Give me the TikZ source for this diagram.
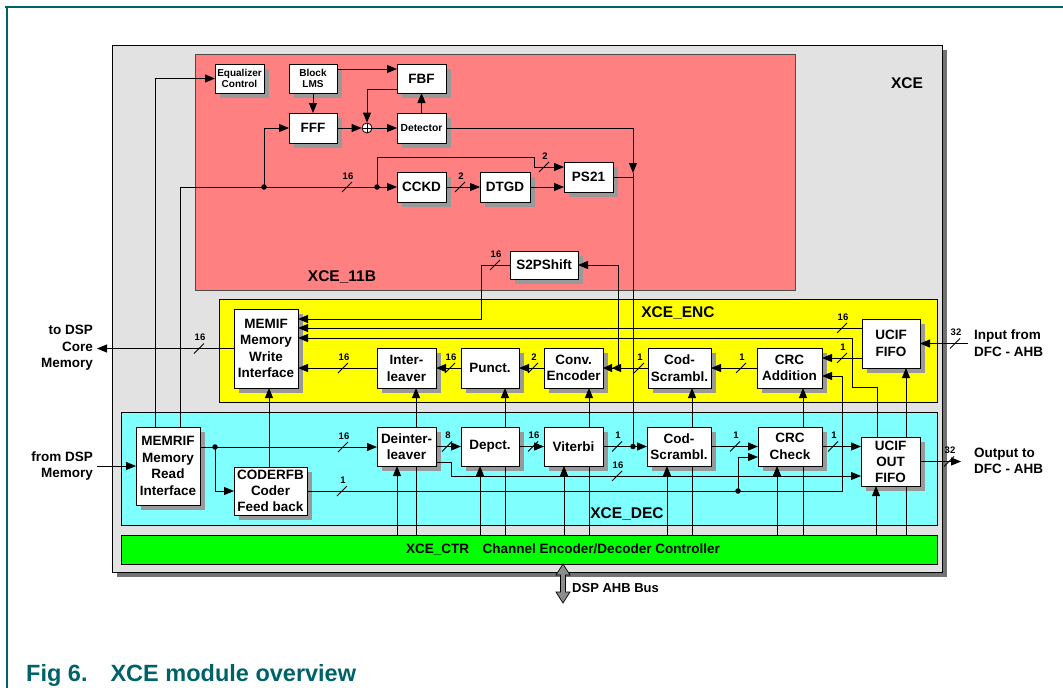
\documentclass[tikz,border=0pt]{standalone}
\usepackage{fontspec}
\setmainfont{Liberation Sans}
\usetikzlibrary{arrows.meta,shadows,calc}
\pgfdeclarelayer{areas}
\pgfdeclarelayer{shadowlayer}
\pgfdeclarelayer{lines}
\pgfsetlayers{areas,shadowlayer,lines,main}
\definecolor{xgray}{RGB}{226,226,226}
\definecolor{xred}{RGB}{255,128,128}
\definecolor{xyel}{RGB}{255,255,0}
\definecolor{xcyan}{RGB}{128,255,255}
\definecolor{xgreen}{RGB}{0,255,0}
\definecolor{tealcap}{RGB}{0,98,105}
\newcommand\myfs[2]{\fontsize{#1pt}{#2pt}\selectfont\bfseries}
\newcommand\bwm[4]{%
  \draw[ln] ({#2-5},{#3+5}) -- ({#2+5},{#3-5});
  \node[bwl] (#1) at ({#2+1},{#3-11}) {#4};}
\begin{document}
\begin{tikzpicture}[x=1pt,y=-1pt,
  area/.style={draw=black, line width=1pt, inner sep=0pt, outer sep=0pt},
  blk/.style={draw=black, fill=white, line width=0.8pt, inner sep=1pt, outer sep=0pt, align=center,
     font=\myfs{13.5}{16.5}},
  sz/.style 2 args={minimum width=#1pt, minimum height=#2pt},
  ln/.style={line width=1pt},
  arr/.style={-{Triangle[length=10pt,width=8pt]}, line width=1pt},
  dbl/.style={-{Triangle[length=9pt,width=8pt]Triangle[length=9pt,width=8pt]}, line width=1pt},
  bwl/.style={font=\myfs{9.5}{10}, inner sep=0pt},
  txt/.style={font=\myfs{13.5}{16.5}, inner sep=0pt},
  lab/.style={font=\myfs{15.5}{17}, inner sep=0pt},
  dot/.style={circle, fill=black, inner sep=0pt, minimum size=5.5pt}
]
\useasboundingbox (0,0) rectangle (1063,688);

% frame and caption
\draw[tealcap, line width=1.2pt] (5,7) -- (1063,7);
\draw[tealcap, line width=1.2pt] (7,7) -- (7,688);
\node[anchor=base west, font=\myfs{23.5}{27}, text=tealcap, inner sep=0pt] (cap) at (26,681) {Fig 6.\hspace{23pt}XCE module overview};

% areas
\begin{pgfonlayer}{areas}
\node[area, fill=xgray, sz={830}{527}, drop shadow={shadow xshift=5pt, shadow yshift=-5pt, fill=black!55, opacity=1}] (xce) at (527,308.5) {};
\node[area, draw=black!70, fill=xred, sz={600}{236}] (r11b) at (495,172) {};
\node[area, fill=xyel, sz={718}{103}] (enc) at (578,350.5) {};
\node[area, fill=xcyan, sz={816}{113}] (dec) at (529,468.5) {};
\node[area, fill=xgreen, sz={816}{29}] (ctr) at (529,549.5) {};
\end{pgfonlayer}

\node[lab] (xcel) at (907,83) {XCE};
\node[lab] (r11bl) at (342,277) {XCE\_11B};
\node[lab] (encl) at (678,313) {XCE\_ENC};
\node[lab] (decl) at (627,514) {XCE\_DEC};
\node[txt] (ctrl) at (563,549.5) {XCE\_CTR\hspace{1em}Channel Encoder/Decoder Controller};

% red area blocks
\node[blk, sz={49}{29}, font=\myfs{10}{11.3}] (eq) at (239.5,78.5) {Equalizer\\Control};
\node[blk, sz={48}{29}, font=\myfs{10}{11.3}] (lms) at (313,78.5) {Block\\LMS};
\node[blk, sz={49}{29}] (fbf) at (421.5,78.5) {FBF};
\node[blk, sz={48}{30}] (fff) at (313,128) {FFF};
\node[blk, sz={49}{30}, font=\myfs{10.3}{12}] (det) at (421.5,128) {Detector};
\node[circle, draw=black, fill=white, line width=0.8pt, minimum size=10pt, inner sep=0pt] (add) at (367,128) {};
\draw[line width=0.8pt] (add.north) -- (add.south) (add.west) -- (add.east);
\node[blk, sz={49}{30}] (cckd) at (421.5,187) {CCKD};
\node[blk, sz={50}{30}] (dtgd) at (505,187) {DTGD};
\node[blk, sz={49}{30}] (ps21) at (588.5,177) {PS21};
\node[blk, sz={68}{28}] (s2p) at (544,265) {S2PShift};

% ENC blocks
\node[blk, sz={64}{79}] (memif) at (266,348.5) {MEMIF\\Memory\\Write\\Interface};
\node[blk, sz={59}{40}, font=\myfs{13.5}{17}] (intl) at (406.5,368) {Inter-\\leaver};
\node[blk, sz={58}{40}] (punct) at (490,368) {Punct.};
\node[blk, sz={59}{40}] (conv) at (573.5,368) {Conv.\\Encoder};
\node[blk, sz={63}{40}] (cse) at (679.5,368) {Cod-\\Scrambl.};
\node[blk, sz={65}{40}] (crca) at (789.5,368) {CRC\\Addition};
\node[blk, sz={58}{49}] (ucif) at (891,343.5) {UCIF\\FIFO};

% DEC blocks
\node[blk, sz={64}{78}] (memrif) at (168,466) {MEMRIF\\Memory\\Read\\Interface};
\node[blk, sz={73}{48}, font=\myfs{13.5}{15.7}] (cfb) at (270.5,491) {CODERFB\\Coder\\Feed back};
\node[blk, sz={59}{39}] (dint) at (406.5,446.5) {Deinter-\\leaver};
\node[blk, sz={58}{39}] (depct) at (490,446.5) {Depct.};
\node[blk, sz={59}{39}] (vit) at (573.5,446.5) {Viterbi};
\node[blk, sz={64}{39}] (csd) at (679,446.5) {Cod-\\Scrambl.};
\node[blk, sz={64}{39}] (crcc) at (790,446.5) {CRC\\Check};
\node[blk, sz={59}{49}, font=\myfs{13.5}{16}] (ucifo) at (890.5,461.5) {UCIF\\OUT\\FIFO};

% block shadows (below the connectors)
\begin{pgfonlayer}{shadowlayer}
\foreach \b in {eq,lms,fbf,fff,det,cckd,dtgd,ps21,s2p,memif,intl,punct,conv,cse,crca,ucif,memrif,cfb,dint,depct,vit,csd,crcc,ucifo}
  \fill[black!40] ([xshift=5pt,yshift=-5pt]\b.south west) rectangle ([xshift=5pt,yshift=-5pt]\b.north east);
\end{pgfonlayer}

% outer texts
\node[txt, align=right, anchor=east] (todsptxt) at (93,348) {to DSP\\Core\\Memory};
\node[txt, align=right, anchor=east] (fromdsptxt) at (93,466) {from DSP\\Memory};
\node[txt, align=left, anchor=west] (inptxt) at (974,343) {Input from\\DFC - AHB};
\node[txt, align=left, anchor=west] (outtxt) at (974,461) {Output to\\DFC - AHB};
\node[txt, anchor=west, font=\myfs{13}{15}] (bustxt) at (572,588) {DSP AHB Bus};

% coordinates
\coordinate (j1) at (264,187);
\coordinate (j2) at (377,187);
\coordinate (b1) at (534,167);
\coordinate (t1) at (633,173);
\coordinate (j4) at (633,446.5);
\coordinate (j3) at (618,368);
\coordinate (c1) at (481,319);
\coordinate (u1) at (852,387);
\coordinate (u2) at (852,338);
\coordinate (inp) at (968,343.5);
\coordinate (todsp) at (97,348.5);
\coordinate (fromdsp) at (97,466);
\coordinate (j5) at (215,447);
\coordinate (d1) at (451,476);
\coordinate (k1) at (842,376);
\coordinate (j6) at (738,491);
\coordinate (outp) at (961,461.5);

\begin{pgfonlayer}{lines}
% red area
\draw[arr] ([xshift=19pt]memrif.north west) |- (eq.west);
\draw[arr] ([xshift=44pt]memrif.north west) |- (cckd.west);
\draw[arr] (j1) |- (fff.west);
\draw[arr] (j2) -- ++(0,-30) -| (b1) -- (b1 -| ps21.west);
\draw[arr] (lms.south) -- (fff.north);
\draw[arr] ([yshift=9.5pt]lms.east) -- ([yshift=9.5pt]fbf.west);
\draw[arr] ([yshift=-10.5pt]fbf.west) -| (add.north);
\draw[arr] (fff.east) -- (add.west);
\draw[arr] (add.east) -- (det.west);
\draw[arr] (det.north) -- (fbf.south);
\draw[arr] (det.east) -| (t1);
\draw[ln] (t1) -- (j4);
\draw[ln] (ps21.east) -- (ps21.east -| j4);
\draw[arr] (cckd.east) -- (dtgd.west);
\draw[arr] (dtgd.east) -- (dtgd.east -| ps21.west);
\draw[arr] (j3) |- (s2p.east);
\draw[arr] (s2p.west) -| (c1) -- (c1 -| memif.east);
% ENC
\path ([yshift=15.5pt]ucif.west) coordinate (uA);
\draw[arr] (uA) -- (uA -| memif.east);
\path ([xshift=-13.5pt]ucifo.north) coordinate (uB);
\draw[arr] (uB) |- (u1) -- (u2) -- (u2 -| memif.east);
\path ([yshift=-14.5pt]ucif.west) coordinate (uC);
\draw[arr] (uC) -- (uC -| crca.east);
\draw[arr] (inp) -- (ucif.east);
\draw[arr] (crca.west) -- (cse.east);
\draw[dbl] (cse.west) -- (conv.east);
\draw[arr] (conv.west) -- (punct.east);
\draw[arr] (punct.west) -- (intl.east);
\draw[arr] (intl.west) -- (intl.west -| memif.east);
\draw[arr] (memif.west) -- (todsp);
\path ([xshift=-1.5pt]cfb.north) coordinate (cA);
\draw[arr] (cA) -- (cA |- memif.south);
% DEC
\draw[arr] (fromdsp) -- (memrif.west);
\path ([yshift=19pt]memrif.east) coordinate (mA);
\draw[arr] (mA) -- (mA -| dint.west);
\draw[arr] (j5) |- (cfb.west);
\draw[arr] (dint.east) -- (depct.west);
\draw[arr] (depct.east) -- (vit.west);
\draw[arr] (vit.east) -- (csd.west);
\draw[arr] ([yshift=-15.5pt]dint.east) -| (d1) -- (d1 -| ucifo.west);
\draw[arr] (csd.east) -- (crcc.west);
\draw[arr] (crcc.east) -- (crcc.east -| ucifo.west);
\draw[arr] (ucifo.east) -- (outp);
\draw[arr] (cfb.east) -| (k1) -- (k1 -| crca.east);
\draw[arr] (j6) |- ([yshift=-10.5pt]crcc.west);
% controller lines
\foreach \n/\dx in {dint/-9.5, intl/9.5, depct/-10, punct/15, vit/-9.5, conv/15.5, csd/-12, cse/12.5, crcc/-13, crca/13.5, ucifo/-14.5, ucif/15}{
  \path ([xshift=\dx pt]\n.south) coordinate (tmp);
  \draw[arr] (tmp |- ctr.north) -- (tmp);
}
\end{pgfonlayer}

% junction dots
\foreach \j in {j1,j2,j3,j4,j5,j6} \node[dot] at (\j) {};

% bus-width marks
\bwm{w1}{347}{187}{16}
\bwm{w2}{460}{187}{2}
\bwm{w3}{544}{167}{2}
\bwm{w4}{495}{265}{16}
\bwm{w5}{199}{348.5}{16}
\bwm{w6}{343}{368}{16}
\bwm{w7}{450}{368}{16}
\bwm{w8}{533}{368}{2}
\bwm{w9}{639}{368}{1}
\bwm{w10}{741}{368}{1}
\bwm{w11}{842}{358}{1}
\bwm{w12}{842}{328}{16}
\bwm{w13}{955}{343.5}{32}
\bwm{w14}{343}{447}{16}
\bwm{w15}{342}{491}{1}
\bwm{w16}{447}{446.5}{8}
\bwm{w17}{533}{446.5}{16}
\bwm{w18}{617}{446.5}{1}
\bwm{w19}{617}{476}{16}
\bwm{w20}{735}{446.5}{1}
\bwm{w21}{833}{446.5}{1}
\bwm{w22}{949}{461.5}{32}

% DSP AHB bus double arrow
\draw[fill=black!45, line width=0.7pt] (ctr.south -| 563,0) -- (570,575) -- (565.5,575) -- (565.5,592) -- (570,592) -- (563,603)
  -- (556,592) -- (560.5,592) -- (560.5,575) -- (556,575) -- cycle;
\end{tikzpicture}
\end{document}
